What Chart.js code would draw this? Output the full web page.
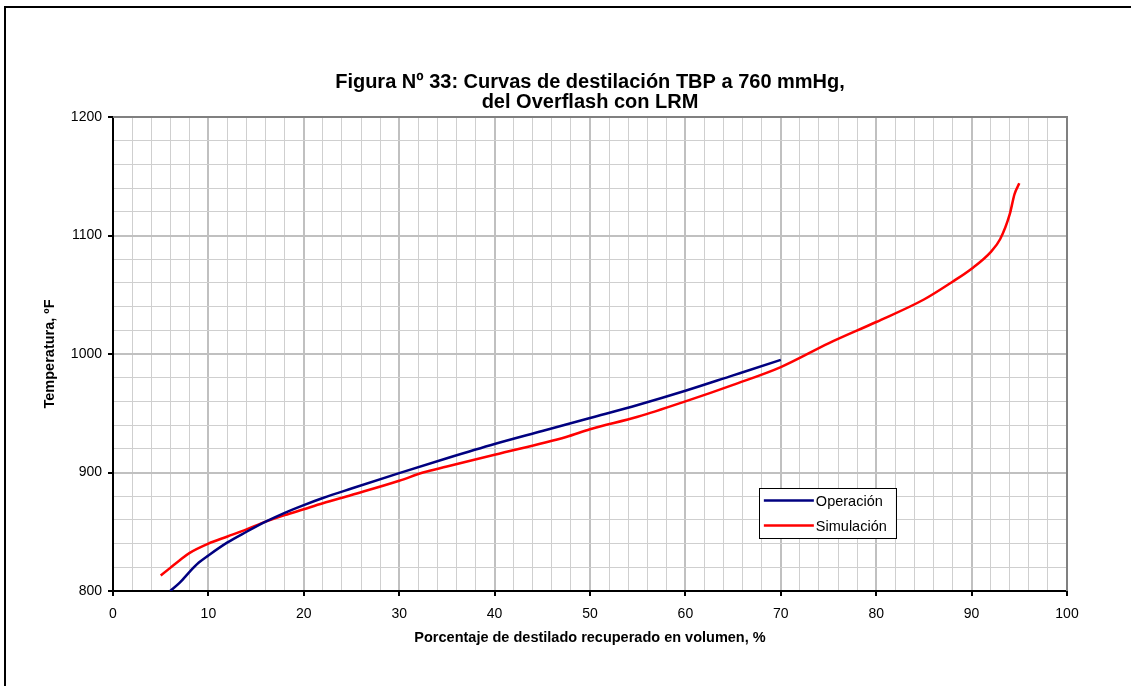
<!DOCTYPE html>
<html>
<head>
<meta charset="utf-8">
<script src="https://cdn.jsdelivr.net/npm/chart.js@4.4.1/dist/chart.umd.min.js"></script>
<style>
  html, body { margin: 0; padding: 0; background: #fff; }
  #wrap { width: 1131px; height: 686px; position: relative; }
</style>
</head>
<body>
<div id="wrap"><canvas id="chart" width="1131" height="686"></canvas></div>
<script>
// Curva de operación
const opX = [6, 7, 8, 9, 10, 12, 14, 16, 18, 20, 22, 25, 30, 35, 40, 45, 50, 55, 60, 65, 70];
const opY = [800, 807, 816, 824, 830, 841, 850, 858.5, 866, 872.5, 878.5, 886.5, 899.5, 912, 924, 935, 946, 957, 969, 982, 995];

// Curva de simulación
const simX = [5, 6, 7, 8, 10, 12, 14, 16, 18, 20, 22, 25, 30, 32.5, 35, 40, 47.5, 50, 55, 60, 65, 70, 75, 80, 85, 88, 90, 92, 93, 94, 94.5, 95];
const simY = [813, 819.5, 826, 832, 840, 846, 852, 858.5, 864, 869, 874, 881, 893, 900, 905, 915, 930, 936.5, 947, 960, 974, 989, 1009, 1027, 1046, 1061, 1072, 1086, 1097, 1118, 1135, 1144];

const seriesNames = ['Operación', 'Simulación'];
const titleLines = ['Figura Nº 33: Curvas de destilación TBP a 760 mmHg,', 'del Overflash con LRM'];
const xTitle = 'Porcentaje de destilado recuperado en volumen, %';
const yTitle = 'Temperatura, ºF';

const FONT = 'Arial, "Liberation Sans", sans-serif';

function toPoints(xs, ys) {
    return xs.map((x, i) => ({ x: x, y: ys[i] }));
}

const extras = {
    id: 'extras',
    afterDraw(chart) {
        const ctx = chart.ctx;
        const a = chart.chartArea;
        const sx = chart.scales.x, sy = chart.scales.y;
        ctx.save();

        // plot frame (top / right)
        ctx.strokeStyle = '#808080';
        ctx.lineWidth = 2;
        ctx.beginPath();
        ctx.moveTo(a.left, a.top);
        ctx.lineTo(a.right, a.top);
        ctx.lineTo(a.right, a.bottom);
        ctx.stroke();

        // outer black frame
        ctx.strokeStyle = '#000';
        ctx.lineWidth = 2;
        ctx.beginPath();
        ctx.moveTo(5, 700);
        ctx.lineTo(5, 7);
        ctx.lineTo(1200, 7);
        ctx.stroke();

        // legend box
        const lx = sx.getPixelForValue(67.7), rx = sx.getPixelForValue(82.05);
        const ty = sy.getPixelForValue(886.9), by = sy.getPixelForValue(844.7);
        ctx.fillStyle = '#fff';
        ctx.fillRect(lx, ty, rx - lx, by - ty);
        ctx.strokeStyle = '#000';
        ctx.lineWidth = 1;
        ctx.strokeRect(Math.round(lx) + 0.5, Math.round(ty) + 0.5, Math.round(rx - lx), Math.round(by - ty));
        ctx.font = '14.5px ' + FONT;
        ctx.textBaseline = 'middle';
        chart.data.datasets.forEach((ds, i) => {
            const yy = ty + 12.5 + i * 25;
            ctx.strokeStyle = ds.borderColor;
            ctx.lineWidth = 2.5;
            ctx.beginPath();
            ctx.moveTo(lx + 5, yy);
            ctx.lineTo(lx + 55, yy);
            ctx.stroke();
            ctx.fillStyle = '#000';
            ctx.fillText(ds.label, lx + 57, yy + 1);
        });
        ctx.restore();
    }
};

const isMajorX = v => Math.abs(v % 10) < 1e-6;
const isMajorY = v => Math.abs(v % 100) < 1e-6;

new Chart(document.getElementById('chart').getContext('2d'), {
    type: 'line',
    data: {
        datasets: [
            { label: seriesNames[0], data: toPoints(opX, opY), borderColor: '#000080', borderWidth: 2.5, pointRadius: 0, cubicInterpolationMode: 'monotone', fill: false },
            { label: seriesNames[1], data: toPoints(simX, simY), borderColor: '#ff0000', borderWidth: 2.5, pointRadius: 0, cubicInterpolationMode: 'monotone', fill: false }
        ]
    },
    options: {
        responsive: false,
        animation: false,
        layout: { padding: { left: 41, right: 64, top: 0, bottom: 36 } },
        plugins: {
            legend: { display: false },
            tooltip: { enabled: false },
            title: {
                display: true,
                fullSize: false,
                text: titleLines,
                color: '#000',
                font: { family: FONT, size: 20, weight: 'bold', lineHeight: 1.0 },
                padding: { top: 72, bottom: 5 }
            }
        },
        scales: {
            x: {
                type: 'linear',
                min: 0, max: 100,
                afterFit: s => { s.height = 59; },
                ticks: {
                    stepSize: 2, autoSkip: false, maxRotation: 0, padding: 10,
                    color: '#000', font: { family: FONT, size: 14 },
                    callback: v => isMajorX(v) ? v : ''
                },
                grid: {
                    color: c => isMajorX(c.tick.value) ? '#c0c0c0' : '#cfcfcf',
                    lineWidth: c => isMajorX(c.tick.value) ? 2 : 1,
                    tickColor: c => isMajorX(c.tick.value) ? '#000' : 'rgba(0,0,0,0)',
                    tickLength: 5, tickWidth: 2
                },
                border: { color: '#000', width: 2 },
                title: { display: true, text: xTitle, color: '#000', font: { family: FONT, size: 14.5, weight: 'bold' }, padding: { top: 4, bottom: 3 } }
            },
            y: {
                min: 800, max: 1200,
                afterFit: s => { s.width = 72; },
                ticks: {
                    stepSize: 20, autoSkip: false, padding: 6,
                    color: '#000', font: { family: FONT, size: 14 },
                    callback: v => isMajorY(v) ? v : ''
                },
                grid: {
                    color: c => isMajorY(c.tick.value) ? '#c0c0c0' : '#cfcfcf',
                    lineWidth: c => isMajorY(c.tick.value) ? 2 : 1,
                    tickColor: c => isMajorY(c.tick.value) ? '#000' : 'rgba(0,0,0,0)',
                    tickLength: 5, tickWidth: 2
                },
                border: { color: '#000', width: 2 },
                title: { display: true, text: yTitle, color: '#000', font: { family: FONT, size: 14.5, weight: 'bold' }, padding: { top: 0, bottom: 6 } }
            }
        }
    },
    plugins: [extras]
});
</script>
</body>
</html>
